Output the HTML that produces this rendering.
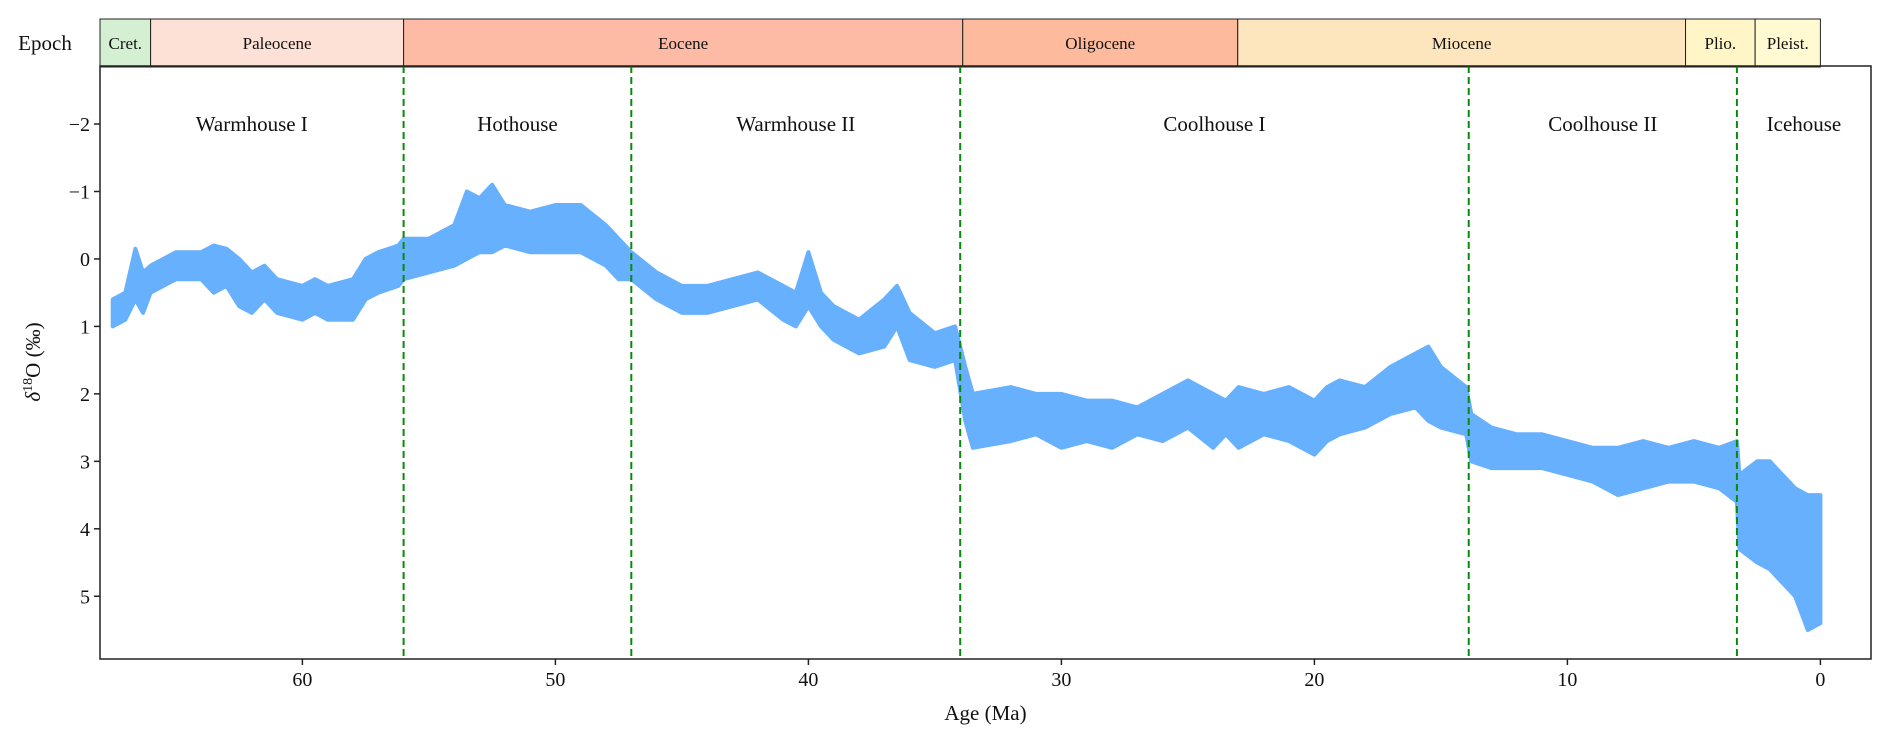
<!DOCTYPE html>
<html><head><meta charset="utf-8"><style>
body{margin:0;background:#fff}
svg{display:block;font-family:"Liberation Serif",serif}
</style></head><body>
<svg id="chart" width="1892" height="747" viewBox="0 0 1892 747">
<rect width="1892" height="747" fill="#fff"/>
<g id="epochs"></g>
<g id="data"></g>
<g id="lines"></g>
<g id="axes"></g>
</svg>
<script>
const ages = [67.5,67,66.6,66.3,66,65,64,63.5,63,62.5,62,61.5,61,60,59.5,59,58,57.5,57,56.2,56,55,54,53.5,53,52.5,52,51,50,49,48,47.5,47,46,45,44,43,42,41,40.5,40,39.5,39,38,37,36.5,36,35,34.2,33.8,33.5,32,31,30,29,28,27,26,25,24,23.5,23,22,21,20,19.5,19,18,17,16,15.5,15,14,13.8,13,12,11,10,9,8,7,6,5,4,3.3,3.2,2.5,2.0,1.5,1.0,0.5,0.0];
const lowVals = [0.6,0.5,-0.15,0.2,0.1,-0.1,-0.1,-0.2,-0.15,0.0,0.2,0.1,0.3,0.4,0.3,0.4,0.3,0.0,-0.1,-0.2,-0.3,-0.3,-0.5,-1.0,-0.9,-1.1,-0.8,-0.7,-0.8,-0.8,-0.5,-0.3,-0.1,0.2,0.4,0.4,0.3,0.2,0.4,0.5,-0.1,0.5,0.7,0.9,0.6,0.4,0.8,1.1,1.0,1.6,2.0,1.9,2.0,2.0,2.1,2.1,2.2,2.0,1.8,2.0,2.1,1.9,2.0,1.9,2.1,1.9,1.8,1.9,1.6,1.4,1.3,1.6,1.9,2.3,2.5,2.6,2.6,2.7,2.8,2.8,2.7,2.8,2.7,2.8,2.7,3.2,3.0,3.0,3.2,3.4,3.5,3.5];
const highVals = [1.0,0.9,0.6,0.8,0.5,0.3,0.3,0.5,0.4,0.7,0.8,0.6,0.8,0.9,0.8,0.9,0.9,0.6,0.5,0.4,0.3,0.2,0.1,0.0,-0.1,-0.1,-0.2,-0.1,-0.1,-0.1,0.1,0.3,0.3,0.6,0.8,0.8,0.7,0.6,0.9,1.0,0.7,1.0,1.2,1.4,1.3,1.0,1.5,1.6,1.5,2.4,2.8,2.7,2.6,2.8,2.7,2.8,2.6,2.7,2.5,2.8,2.6,2.8,2.6,2.7,2.9,2.7,2.6,2.5,2.3,2.2,2.4,2.5,2.6,3.0,3.1,3.1,3.1,3.2,3.3,3.5,3.4,3.3,3.3,3.4,3.6,4.3,4.5,4.6,4.8,5.0,5.5,5.4];
const epochNames = ["Cret.","Paleocene","Eocene","Oligocene","Miocene","Plio.","Pleist."];
const epochStart = [68,66,56,33.9,23.03,5.33,2.58];
const epochEnd = [66,56,33.9,23.03,5.33,2.58,0];
const regimeNames = ["Warmhouse I","Hothouse","Warmhouse II","Coolhouse I","Coolhouse II","Icehouse"];
const regimeBounds = [56,47,34,13.9,3.3];
const xTicks = [60,50,40,30,20,10,0];
const yTicks = [-2,-1,0,1,2,3,4,5];

const NS="http://www.w3.org/2000/svg";
const L=100,R=1871,T=66,B=659;
const xMax=68.0,xMin=-2.0,yMin=-2.86,yMax=5.93;
const X=a=>L+(xMax-a)/(xMax-xMin)*(R-L);
const Y=v=>T+(v-yMin)/(yMax-yMin)*(B-T);
function mk(tag,attrs,parent,text){const e=document.createElementNS(NS,tag);for(const k in attrs)e.setAttribute(k,attrs[k]);if(text!==undefined)e.textContent=text;parent.appendChild(e);return e;}

const epColors=["#d5efd2","#fde0d6","#fdbba5","#fdba9c","#fde6bd","#fff5c6","#fffad2"];
const eg=document.getElementById('epochs');
const et=mk('text',{x:45,y:50,'text-anchor':'middle','font-size':21,fill:'#111'},eg,'Epoch');


epochNames.forEach((n,i)=>{
  const x0=X(epochStart[i]),x1=X(epochEnd[i]);
  const r=mk('rect',{x:x0,y:19,width:x1-x0,height:48,fill:epColors[i],stroke:'#222','stroke-width':1},eg);
  
  
  const t=mk('text',{x:(x0+x1)/2,y:49,'text-anchor':'middle','font-size':17,fill:'#111'},eg,n);
  
  
});

const dg=document.getElementById('data');
let d='';
ages.forEach((a,i)=>{d+=(i?'L':'M')+X(a).toFixed(1)+','+Y(lowVals[i]).toFixed(1);});
for(let i=ages.length-1;i>=0;i--){d+='L'+X(ages[i]).toFixed(1)+','+Y(highVals[i]).toFixed(1);}
d+='Z';
const band=mk('path',{d:d,fill:'#66b0fd',stroke:'#66b0fd','stroke-width':4,'stroke-linejoin':'round'},dg);



const lg=document.getElementById('lines');
regimeBounds.forEach((b,i)=>{
  const ln=mk('line',{x1:X(b),x2:X(b),y1:T,y2:B,stroke:'#0a8a0a','stroke-width':2,'stroke-dasharray':'7,4'},lg);
  
  
});
const rb=[xMax].concat(regimeBounds).concat([xMin]);
regimeNames.forEach((n,i)=>{
  const t=mk('text',{x:(X(rb[i])+X(rb[i+1]))/2,y:131,'text-anchor':'middle','font-size':21,fill:'#111'},lg,n);
  
  
});

const ag=document.getElementById('axes');
const fr=mk('rect',{x:L,y:T,width:R-L,height:B-T,fill:'none',stroke:'#222','stroke-width':1.5},ag);


xTicks.forEach(v=>{
  const x=X(v);
  const tk=mk('line',{x1:x,x2:x,y1:B,y2:B+6,stroke:'#222','stroke-width':1.5},ag);
  
  
  const t=mk('text',{x:x,y:686,'text-anchor':'middle','font-size':20,fill:'#111'},ag,String(v));
  
  
});
yTicks.forEach(v=>{
  const y=Y(v);
  const tk=mk('line',{x1:L-6,x2:L,y1:y,y2:y,stroke:'#222','stroke-width':1.5},ag);
  
  
  const t=mk('text',{x:L-10,y:y+7,'text-anchor':'end','font-size':20,fill:'#111'},ag,v<0?'\u2212'+(-v):String(v));
  
  
});
const xt=mk('text',{x:(L+R)/2,y:720,'text-anchor':'middle','font-size':21,fill:'#111'},ag,'Age (Ma)');


const yt=mk('text',{x:0,y:0,'text-anchor':'middle','font-size':21,fill:'#111',transform:'translate(40,362) rotate(-90)'},ag);


mk('tspan',{'font-style':'italic'},yt,'\u03b4');
mk('tspan',{dy:-8,'font-size':14},yt,'18');
mk('tspan',{dy:8},yt,'O (\u2030)');
</script>
</body></html>
